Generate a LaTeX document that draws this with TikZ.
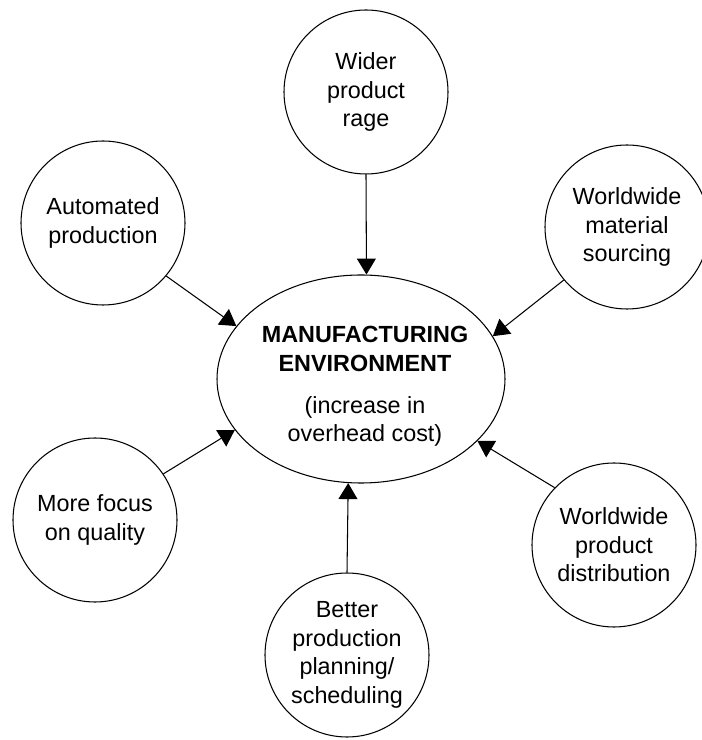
\documentclass[tikz,border=0pt]{standalone}
\usepackage{fontspec}
\setmainfont{Liberation Sans}
\usetikzlibrary{arrows.meta,shapes}

\begin{document}
\begin{tikzpicture}[
  bubble/.style={draw,circle,minimum size=3.28cm,inner sep=0pt,align=center,line width=0.6pt},
  arr/.style={-{Triangle[length=0.32cm,width=0.38cm]},line width=0.6pt},
  font=\fontsize{13.3}{16.2}\selectfont]
\useasboundingbox (0,0) rectangle (14.02,14.8);
\node[draw,ellipse,minimum width=5.76cm,minimum height=4.16cm,line width=0.6pt] (env) at (7.22,7.22) {};
\node[align=center] (envtext) at (7.30,7.07) {\textbf{MANUFACTURING}\\\textbf{ENVIRONMENT}\\[0.28cm](increase in\\overhead cost)};
\node[bubble] (wide) at (7.32,12.96) {Wider\\product\\rage};
\node[bubble] (auto) at (2.06,10.34) {Automated\\production};
\node[bubble] (mat) at (12.54,10.26) {Worldwide\\material\\sourcing};
\node[bubble] (qual) at (1.90,4.40) {More focus\\on quality};
\node[bubble] (dist) at (12.28,3.90) {Worldwide\\product\\distribution};
\node[bubble] (plan) at (6.94,1.70) {Better\\production\\planning/\\scheduling};
\draw[arr] (wide.south) -- (env.87);
\draw[arr] (auto.-40) -- (env.157);
\draw[arr] (mat.220) -- (env.18);
\draw[arr] (qual.34) -- (env.202);
\draw[arr] (dist.136) -- (env.332);
\draw[arr] (plan.north) -- (env.263);
\end{tikzpicture}
\end{document}
